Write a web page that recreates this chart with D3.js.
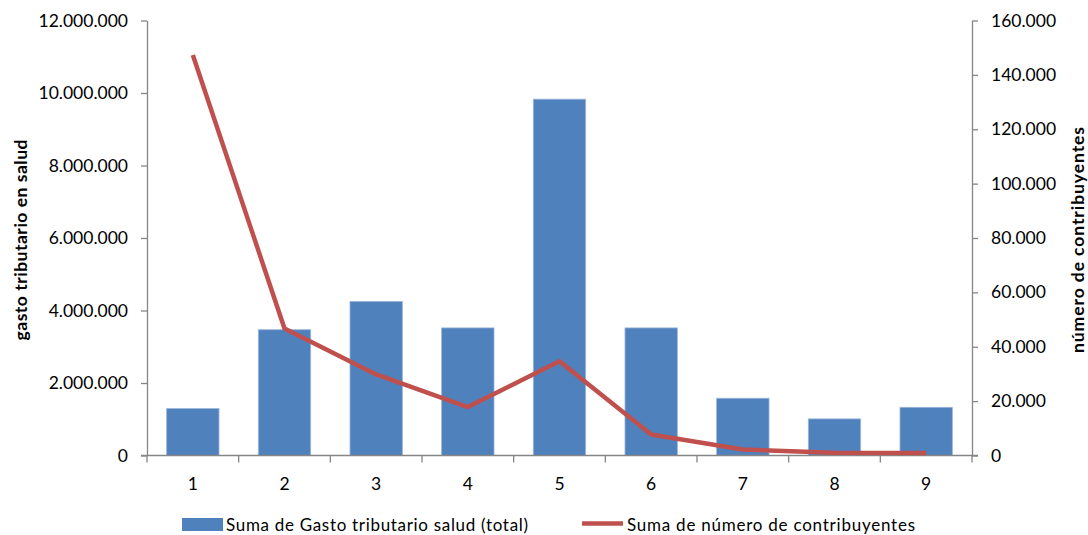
<!DOCTYPE html>
<html>
<head>
<meta charset="utf-8">
<script src="https://cdn.jsdelivr.net/npm/d3@7"></script>
<style>
  html, body { margin: 0; padding: 0; background: #fff; }
  svg { display: block; font-family: Lato, "Open Sans", sans-serif; }
</style>
</head>
<body>
<svg id="chart" width="1088" height="535"></svg>
<script>
// Categories on the x axis
const categories = ["1", "2", "3", "4", "5", "6", "7", "8", "9"];
// Suma de Gasto tributario salud (total) — left axis
const gasto = [1295000, 3470000, 4250000, 3520000, 9830000, 3520000, 1580000, 1010000, 1330000];
// Suma de número de contribuyentes — right axis
const contribuyentes = [147300, 46700, 29800, 17800, 34700, 7700, 2200, 1000, 900];
// Axis tick values
const leftTicks = [0, 2000000, 4000000, 6000000, 8000000, 10000000, 12000000];
const rightTicks = [0, 20000, 40000, 60000, 80000, 100000, 120000, 140000, 160000];

const svg = d3.select("#chart");
const m = { left: 147, right: 972, top: 20.5, bottom: 455.5 };

const fmt = d3.formatLocale({ decimal: ",", thousands: ".", grouping: [3], currency: ["", ""] }).format(",.0f");

const x = d3.scaleBand().domain(categories).range([m.left, m.right]).paddingInner(0.4286).paddingOuter(0.2143);
const yL = d3.scaleLinear().domain([0, 12000000]).range([m.bottom, m.top]);
const yR = d3.scaleLinear().domain([0, 160000]).range([m.bottom, m.top]);

const axisColor = "#868686";
const textColor = "#000";

// Bars
svg.append("g").selectAll("rect").data(gasto).join("rect")
  .attr("x", (d, i) => x(categories[i]))
  .attr("y", d => yL(d))
  .attr("width", x.bandwidth())
  .attr("height", d => yL(0) - yL(d))
  .attr("fill", "#4F81BD")
  .attr("stroke", "#9DB6D9")
  .attr("stroke-width", 0.8);

// Left axis
const gl = svg.append("g").attr("transform", `translate(${m.left},0)`)
  .call(d3.axisLeft(yL).tickValues(leftTicks).tickFormat(fmt).tickSizeInner(6).tickSizeOuter(0).tickPadding(13));
// Right axis
const gr = svg.append("g").attr("transform", `translate(${m.right},0)`)
  .call(d3.axisRight(yR).tickValues(rightTicks).tickFormat(fmt).tickSizeInner(6).tickSizeOuter(0).tickPadding(13));
// Bottom axis: tick marks sit between categories
const edges = d3.range(categories.length + 1).map(i => m.left + i * (m.right - m.left) / categories.length);
const gb = svg.append("g");
gb.append("line").attr("x1", m.left - 6).attr("x2", m.right + 6).attr("y1", m.bottom).attr("y2", m.bottom);
gb.selectAll("line.tick").data(edges).join("line").attr("class", "tick")
  .attr("x1", d => d).attr("x2", d => d).attr("y1", m.bottom).attr("y2", m.bottom + 7);
gb.selectAll("line").attr("stroke", axisColor).attr("stroke-width", 1.3);
gb.selectAll("text").data(categories).join("text")
  .attr("x", d => x(d) + x.bandwidth() / 2)
  .attr("y", 490)
  .attr("text-anchor", "middle")
  .attr("font-size", 17.5)
  .attr("fill", textColor)
  .text(d => d);

[gl, gr].forEach(g => {
  g.selectAll("path").attr("stroke", axisColor).attr("stroke-width", 1.3);
  g.selectAll("line").attr("stroke", axisColor).attr("stroke-width", 1.3);
  g.selectAll("text").attr("font-size", 17.5).attr("fill", textColor).attr("font-family", "Lato, sans-serif");
});

// Line series
const line = d3.line()
  .x((d, i) => x(categories[i]) + x.bandwidth() / 2)
  .y(d => yR(d));
svg.append("path").datum(contribuyentes)
  .attr("d", line)
  .attr("fill", "none")
  .attr("stroke", "#C0504D")
  .attr("stroke-width", 4.5)
  .attr("stroke-linejoin", "round");

// Axis titles
svg.append("text")
  .attr("transform", "translate(27,240) rotate(-90)")
  .attr("text-anchor", "middle")
  .attr("font-size", 17.5).attr("font-weight", "bold")
  .attr("textLength", 201).attr("lengthAdjust", "spacing")
  .text("gasto tributario en salud");
svg.append("text")
  .attr("transform", "translate(1084,240) rotate(-90)")
  .attr("text-anchor", "middle")
  .attr("font-size", 17.5).attr("font-weight", "bold")
  .attr("textLength", 226).attr("lengthAdjust", "spacing")
  .text("número de contribuyentes");

// Legend
const lg = svg.append("g");
lg.append("rect").attr("x", 182).attr("y", 518).attr("width", 41).attr("height", 13).attr("fill", "#4F81BD");
lg.append("text").attr("x", 226).attr("y", 531).attr("font-size", 17)
  .attr("textLength", 302).attr("lengthAdjust", "spacing")
  .text("Suma de Gasto tributario salud (total)");
lg.append("line").attr("x1", 582).attr("x2", 623).attr("y1", 523.5).attr("y2", 523.5)
  .attr("stroke", "#C0504D").attr("stroke-width", 4.5);
lg.append("text").attr("x", 627).attr("y", 531).attr("font-size", 17)
  .attr("textLength", 288).attr("lengthAdjust", "spacing")
  .text("Suma de número de contribuyentes");
</script>
</body>
</html>
